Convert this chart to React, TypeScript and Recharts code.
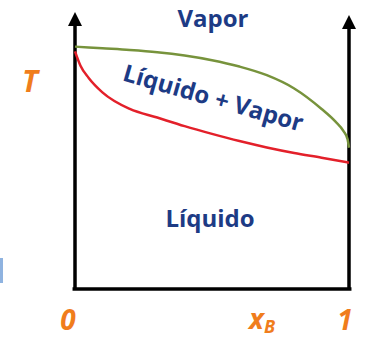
import { LineChart, Line, XAxis, YAxis, ReferenceLine, ReferenceDot } from 'recharts'

// composition x_B and temperature (arbitrary units) for the two phase boundaries
const dewX = [0, 0.1, 0.2, 0.3, 0.4, 0.5, 0.6, 0.7, 0.8, 0.9, 0.95, 0.98, 0.995, 1]
const dewT = [87.5, 86.9, 86.3, 85.5, 84.3, 82.6, 80.3, 77.2, 72.4, 65.0, 60.5, 57.0, 54.0, 51]

const bubbleX = [0, 0.02, 0.05, 0.1, 0.2, 0.3, 0.4, 0.5, 0.6, 0.7, 0.8, 0.9, 1]
const bubbleT = [85.8, 80.6, 76.2, 71.0, 65.0, 61.9, 58.8, 56.0, 53.4, 51.1, 49.1, 47.4, 45.6]

const xTicks = [0, 1]

const dewData = dewX.map((x, i) => ({ x, t: dewT[i] }))
const bubbleData = bubbleX.map((x, i) => ({ x, t: bubbleT[i] }))

const NAVY = '#1d3b85'
const ORANGE = '#f07d1c'
const FONT = '"Open Sans", sans-serif'

const Arrow = (props: any) => {
  const { cx, cy } = props
  return <path d={`M${cx},${cy} L${cx - 7},${cy + 14} L${cx + 7},${cy + 14} Z`} fill="#000" />
}

const OrangeTick = (props: any) => {
  const { x, y, payload } = props
  return (
    <text x={x + (payload.value === 0 ? -7 : -4)} y={y + 33} textAnchor="middle" fill={ORANGE}
      fontFamily={FONT} fontWeight={700} fontStyle="italic" fontSize={28}>
      {payload.value}
    </text>
  )
}

export default function App() {
  return (
    <div style={{ position: 'absolute', left: 0, top: 0, width: 365, height: 339, background: '#fff' }}>
      <LineChart width={365} height={339} margin={{ top: 12, right: 16, bottom: 0, left: 75 }}>
        <XAxis type="number" dataKey="x" domain={[0, 1]} ticks={xTicks} axisLine={false} tickLine={false}
          height={50} tick={<OrangeTick />} allowDuplicatedCategory={false} />
        <YAxis type="number" dataKey="t" domain={[0, 100]} hide />
        <ReferenceLine segment={[{ x: 0, y: 0 }, { x: 0, y: 96 }]} stroke="#000" strokeWidth={3.5} ifOverflow="visible" />
        <ReferenceLine segment={[{ x: 1, y: 0 }, { x: 1, y: 95 }]} stroke="#000" strokeWidth={3.5} ifOverflow="visible" />
        <ReferenceLine segment={[{ x: -0.009, y: 0 }, { x: 1.009, y: 0 }]} stroke="#000" strokeWidth={3.5} ifOverflow="visible" />
        <ReferenceDot x={0} y={100} r={0} shape={<Arrow />} ifOverflow="visible" />
        <ReferenceDot x={1} y={98.9} r={0} shape={<Arrow />} ifOverflow="visible" />
        <Line data={dewData} dataKey="t" type="monotone" stroke="#77933c" strokeWidth={2.5} dot={false} isAnimationActive={false} />
        <Line data={bubbleData} dataKey="t" type="monotone" stroke="#e3202a" strokeWidth={2.5} dot={false} isAnimationActive={false} />
      </LineChart>
      <svg width={365} height={339} style={{ position: 'absolute', left: 0, top: 0, pointerEvents: 'none' }}>
        <g fontFamily={FONT} fontWeight={700}>
          <text x={213} y={27} textAnchor="middle" fontSize={24} fill={NAVY}>Vapor</text>
          <text x={211} y={106} textAnchor="middle" fontSize={24} fill={NAVY} transform="rotate(16 211 106)">Líquido + Vapor</text>
          <text x={210} y={227} textAnchor="middle" fontSize={24} fill={NAVY}>Líquido</text>
          <text x={30} y={92} textAnchor="middle" fontSize={30} fontStyle="italic" fill={ORANGE}>T</text>
          <text x={249} y={329} fontSize={28} fontStyle="italic" fill={ORANGE}>x<tspan fontSize={18} dy={4}>B</tspan></text>
        </g>
        <rect x={0} y={258} width={3} height={25} fill="#8fb3e0" />
      </svg>
    </div>
  )
}
